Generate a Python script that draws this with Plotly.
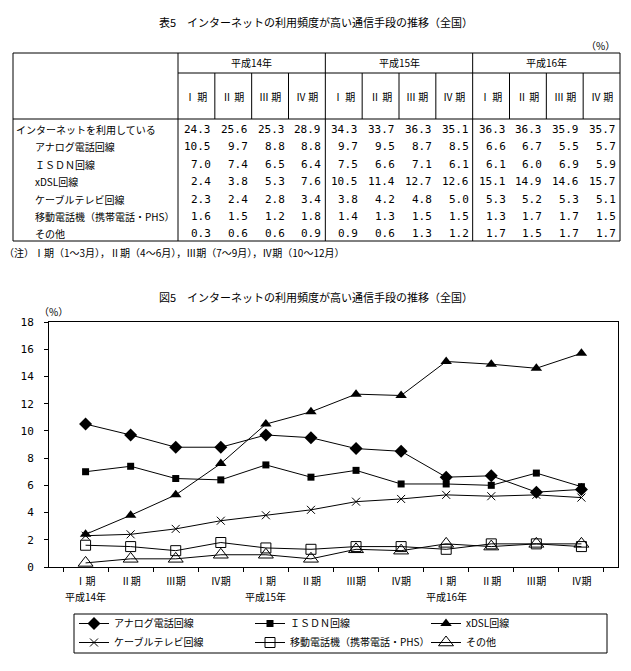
import plotly.graph_objects as go

W, H = 631, 671
FONT = "Noto Sans CJK JP"
NUM_FONT = "DejaVu Sans Mono"

# ---- data ----
years = ["平成14年", "平成15年", "平成16年"]
quarters = ["Ⅰ期", "Ⅱ期", "Ⅲ期", "Ⅳ期"]
row_labels = ["インターネットを利用している", "アナログ電話回線", "ＩＳＤＮ回線", "xDSL回線",
              "ケーブルテレビ回線", "移動電話機（携帯電話・PHS）", "その他"]

internet = [24.3, 25.6, 25.3, 28.9, 34.3, 33.7, 36.3, 35.1, 36.3, 36.3, 35.9, 35.7]
analog = [10.5, 9.7, 8.8, 8.8, 9.7, 9.5, 8.7, 8.5, 6.6, 6.7, 5.5, 5.7]
isdn = [7.0, 7.4, 6.5, 6.4, 7.5, 6.6, 7.1, 6.1, 6.1, 6.0, 6.9, 5.9]
xdsl = [2.4, 3.8, 5.3, 7.6, 10.5, 11.4, 12.7, 12.6, 15.1, 14.9, 14.6, 15.7]
cable = [2.3, 2.4, 2.8, 3.4, 3.8, 4.2, 4.8, 5.0, 5.3, 5.2, 5.3, 5.1]
mobile = [1.6, 1.5, 1.2, 1.8, 1.4, 1.3, 1.5, 1.5, 1.3, 1.7, 1.7, 1.5]
other = [0.3, 0.6, 0.6, 0.9, 0.9, 0.6, 1.3, 1.2, 1.7, 1.5, 1.7, 1.7]

table_rows = [internet, analog, isdn, xdsl, cable, mobile, other]

legend_names = ["アナログ電話回線", "ＩＳＤＮ回線", "xDSL回線",
                "ケーブルテレビ回線", "移動電話機（携帯電話・PHS）", "その他"]
series = [analog, isdn, xdsl, cable, mobile, other]


def px(x):
    return x / W


def py(y):
    return 1 - y / H


fig = go.Figure()

# ---- chart ----
cats = [f"{y}-{q}" for y in years for q in quarters]
ticktext = [q for y in years for q in quarters]

styles = [
    dict(symbol="diamond", size=10, color="black"),
    dict(symbol="square", size=7, color="black"),
    dict(symbol="triangle-up", size=10, color="black"),
    dict(symbol="x-thin-open", size=8, color="black", line=dict(width=1, color="black")),
    dict(symbol="square-open", size=10, color="black", line=dict(width=1, color="black")),
    dict(symbol="triangle-up-open", size=13, color="black", line=dict(width=1, color="black")),
]
for name, vals, mk in zip(legend_names, series, styles):
    fig.add_trace(go.Scatter(
        x=cats, y=vals, name=name, mode="lines+markers",
        line=dict(color="black", width=1),
        marker=mk,
    ))

fig.update_layout(
    xaxis=dict(
        type="category", domain=[px(49), px(618)],
        tickvals=cats, ticktext=ticktext, tickson="boundaries", tickangle=0,
        ticks="outside", ticklen=4, tickcolor="black", ticklabelstandoff=5,
        showline=True, linecolor="black", mirror=True,
        showgrid=False, zeroline=False, automargin=False,
        tickfont=dict(family=FONT, size=10, color="black"),
    ),
    yaxis=dict(
        domain=[py(567), py(322)], range=[0, 18], dtick=2,
        ticks="outside", ticklen=4, tickcolor="black", ticklabelstandoff=8,
        showline=True, linecolor="black", mirror=True,
        showgrid=False, zeroline=False, automargin=False,
        tickfont=dict(family=NUM_FONT, size=11, color="black"),
    ),
    legend=dict(
        orientation="h", x=px(74), y=py(609), xanchor="left", yanchor="top",
        entrywidth=131, entrywidthmode="pixels", itemwidth=30,
        bgcolor="rgba(0,0,0,0)", borderwidth=0, tracegroupgap=0,
        font=dict(family=FONT, size=10, color="black"),
    ),
    width=W, height=H,
    margin=dict(l=0, r=0, t=0, b=0, autoexpand=False),
    plot_bgcolor="white", paper_bgcolor="white",
    font=dict(family=FONT, color="black"),
)

annotations = []
shapes = []


def text(x, y, s, size=10, xanchor="center", family=FONT):
    annotations.append(dict(
        x=px(x), y=py(y), xref="paper", yref="paper", text=s, showarrow=False,
        xanchor=xanchor, yanchor="middle", font=dict(family=family, size=size, color="black"),
    ))


def line(x0, y0, x1, y1):
    shapes.append(dict(type="line", xref="paper", yref="paper",
                       x0=px(x0), y0=py(y0), x1=px(x1), y1=py(y1),
                       line=dict(color="black", width=1)))


def box(x0, y0, x1, y1):
    shapes.append(dict(type="rect", xref="paper", yref="paper",
                       x0=px(x0), y0=py(y1), x1=px(x1), y1=py(y0),
                       line=dict(color="black", width=1)))


# year labels under the first quarter of each year
for y in years:
    annotations.append(dict(
        x=f"{y}-{quarters[0]}", y=py(596), xref="x", yref="paper", text=y,
        showarrow=False, xanchor="center", yanchor="middle",
        font=dict(family=FONT, size=10, color="black"),
    ))

# legend frame
box(74, 614, 607, 653)

# ---- titles ----
text(316, 22, "表5　インターネットの利用頻度が高い通信手段の推移（全国）", size=11)
text(316, 297, "図5　インターネットの利用頻度が高い通信手段の推移（全国）", size=11)
text(600, 45, "（%）", size=10)
text(53, 312, "（%）", size=10)

# ---- table ----
left, right, top, bottom = 13, 620, 53, 241
lab_r = 178
col_w = (right - lab_r) / 12
year_line, head_line = 73, 119

box(left, top, right, bottom)
line(lab_r, top, lab_r, bottom)
line(lab_r, year_line, right, year_line)
line(left, head_line, right, head_line)
for k in range(1, 12):
    xk = lab_r + k * col_w
    if k % 4 == 0:
        line(xk, top, xk, bottom)
    else:
        line(xk, year_line, xk, head_line)

for i, y in enumerate(years):
    text(lab_r + (4 * i + 2) * col_w, 63, y)
for k in range(12):
    q = quarters[k % 4]
    text(lab_r + (k + 0.5) * col_w, 96, q[0] + " " + q[1:])

row_y0, row_step = 129.5, 17.4
for r, (lab, vals) in enumerate(zip(row_labels, table_rows)):
    yy = row_y0 + r * row_step
    text(14 if r == 0 else 33, yy, lab, xanchor="left")
    for k, v in enumerate(vals):
        text(lab_r + (k + 1) * col_w - 2, yy, f"{v:.1f}", size=11,
             xanchor="right", family=NUM_FONT)

text(2, 253, "（注）Ⅰ期（1～3月），Ⅱ期（4～6月），Ⅲ期（7～9月），Ⅳ期（10～12月）",
     size=10, xanchor="left")

fig.update_layout(annotations=annotations, shapes=shapes)

# the page's default body margin would shift the 631x671 figure
fig.write_html("out.html", config={"displayModeBar": False},
               post_script="document.body.style.margin='0';")
